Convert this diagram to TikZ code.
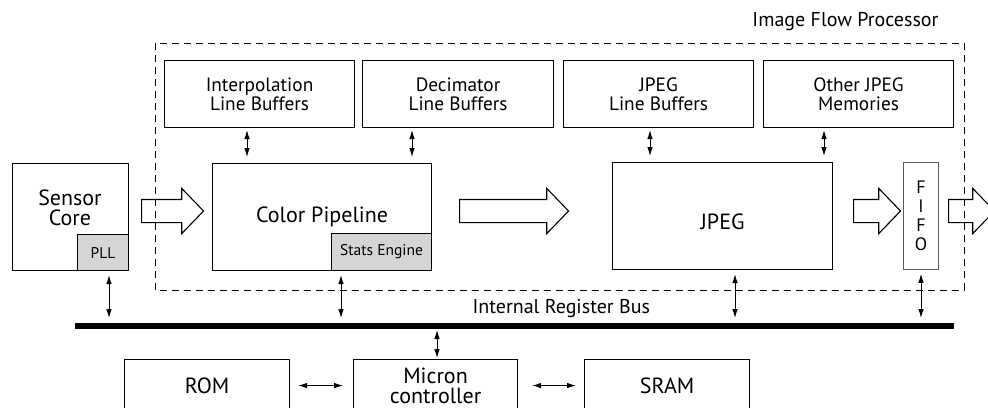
\documentclass[tikz,border=0pt]{standalone}
\usepackage{fontspec}
\setmainfont{PT Sans}
\usetikzlibrary{arrows.meta, shapes.arrows}
\definecolor{statgray}{RGB}{212,214,214}
\begin{document}
\begin{tikzpicture}[x=1pt, y=-1pt, font=\fontsize{22}{20}\selectfont,
box/.style={draw, line width=1.1pt, inner sep=0pt, align=center, anchor=north west},
membox/.style={box, minimum height=67pt, font=\fontsize{19.3}{19}\selectfont},
subbox/.style={box, fill=statgray, anchor=south east, font=\fontsize{15.5}{16}\selectfont},
bigarrow/.style={draw, line width=1.1pt, single arrow, single arrow head extend=11pt,
  single arrow tip angle=92, inner xsep=0pt, inner ysep=11pt, anchor=west},
link/.style={<->, line width=0.9pt, >={Latex[length=9pt,width=5.5pt]}}]
\useasboundingbox (0,0) rectangle (988,407);
\draw[line width=0.9pt, dash pattern=on 7pt off 5pt] (155,43) rectangle (964,290);
\node[anchor=base east, font=\fontsize{20}{18}\selectfont] (ifplabel) at (942,26) {Image Flow Processor};
\node[membox, minimum width=190pt] (ilb) at (164,60) {Interpolation\\Line Buffers};
\node[membox, minimum width=191pt] (dlb) at (362,60) {Decimator\\Line Buffers};
\node[membox, minimum width=190pt] (jlb) at (563,60) {JPEG\\Line Buffers};
\node[membox, minimum width=190pt] (ojm) at (763,60) {Other JPEG\\Memories};
\node[box, minimum width=116pt, minimum height=107pt] (sc) at (12,163) {};
\node[align=center] (sctext) at (70,208) {Sensor\\Core};
\node[subbox, minimum width=51pt, minimum height=36pt] (pll) at (sc.south east) {PLL};
\node[box, minimum width=219pt, minimum height=107pt] (cp) at (212,163) {Color Pipeline};
\node[subbox, minimum width=100pt, minimum height=37pt] (se) at (cp.south east) {Stats Engine};
\node[box, minimum width=220pt, minimum height=107pt,
  label={[yshift=-6pt]center:JPEG}] (jpeg) at (612,162) {};
\node[box, draw=black!65, line width=0.8pt, minimum width=35pt, minimum height=107pt,
  font=\fontsize{18}{19}\selectfont] (fifo) at (903,162) {F\\I\\F\\O};
\node[bigarrow, minimum height=62pt] (a1) at (141,211) {};
\node[bigarrow, minimum height=109pt] (a2) at (459,211) {};
\node[bigarrow, minimum height=47pt] (a3) at (853,211) {};
\node[bigarrow, minimum height=46pt] (a4) at (948,211) {};
\coordinate (busl) at (75,326);
\coordinate (busr) at (954,326);
\draw[line width=6.5pt] (busl) -- (busr);
\node[anchor=base west, font=\fontsize{20}{18}\selectfont] (buslabel) at (469,313) {Internal Register Bus};
\node[box, minimum width=165pt, minimum height=52pt] (rom) at (124,359) {ROM};
\node[box, minimum width=164pt, minimum height=52pt] (mc) at (353,359) {Micron\\controller};
\node[box, minimum width=165pt, minimum height=52pt] (sram) at (584,359) {SRAM};
\path[link, shorten <=2pt, shorten >=6pt]
(247,0 |- ilb.south) edge (247,0 |- cp.north)
(412,0 |- dlb.south) edge (412,0 |- cp.north)
(650,0 |- jlb.south) edge (650,0 |- jpeg.north)
(824,0 |- ojm.south) edge (824,0 |- jpeg.north);
\path[link, shorten <=4pt, shorten >=8pt]
(109,0 |- pll.south) edge (109,0 |- busl)
(341,0 |- se.south) edge (341,0 |- busl)
(735,0 |- jpeg.south) edge (735,0 |- busl)
(921,0 |- fifo.south) edge (921,0 |- busl);
\path[link]
(437,0 |- busl) edge[shorten <=4pt, shorten >=1pt] (437,0 |- mc.north)
(rom.east) edge[shorten <=8pt, shorten >=10pt] (mc.west)
(mc.east) edge[shorten <=14pt, shorten >=8pt] (sram.west);
\end{tikzpicture}
\end{document}
